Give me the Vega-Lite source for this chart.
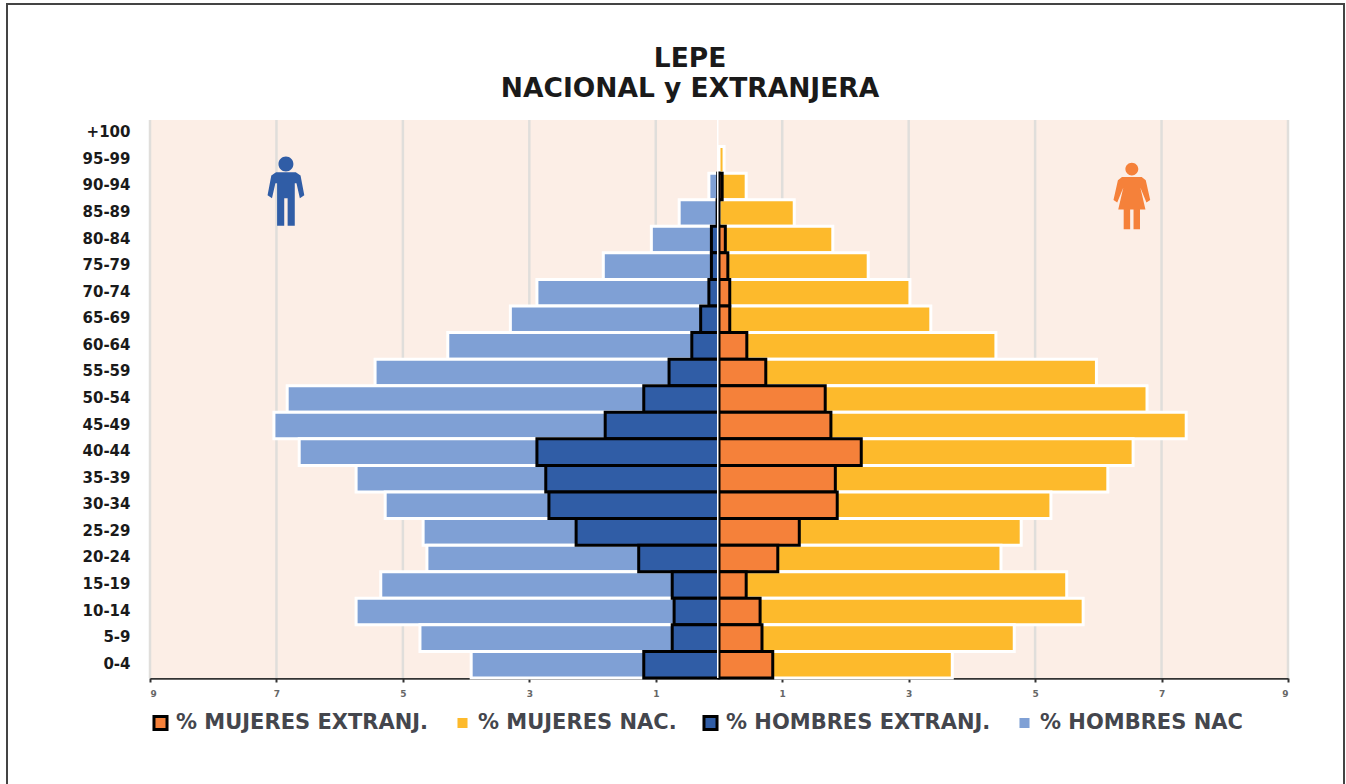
{
"$schema":"https://vega.github.io/schema/vega-lite/v6.json",
"autosize":{"type":"none"},
"padding":{"left":7,"top":4,"right":2,"bottom":-2},
"width":1337,"height":782,
"background":"white",
"view":{"stroke":"#444","strokeWidth":2,"fill":"white"},
"title":{"text":["LEPE","NACIONAL y EXTRANJERA"],"anchor":"start","frame":"group","align":"center","dx":683,"offset":-98,"fontSize":26.5,"font":"DejaVu Sans","fontWeight":"bold","color":"#1a1a1a","lineHeight":30},
"datasets":{
"fondo":[{"x0":-9,"x1":9,"y0":0,"y1":1}],
"rejilla":[{"t":-9,"y0":0,"y1":1},{"t":-7,"y0":0,"y1":1},{"t":-5,"y0":0,"y1":1},{"t":-3,"y0":0,"y1":1},{"t":-1,"y0":0,"y1":1},{"t":1,"y0":0,"y1":1},{"t":3,"y0":0,"y1":1},{"t":5,"y0":0,"y1":1},{"t":7,"y0":0,"y1":1},{"t":9,"y0":0,"y1":1}],
"cero":[{"t":-0.02,"y0":0,"y1":1}],
"barras":[
{"edad":"90-94","serie":"% HOMBRES NAC","v":-0.16},{"edad":"85-89","serie":"% HOMBRES NAC","v":-0.63},{"edad":"80-84","serie":"% HOMBRES NAC","v":-1.07},{"edad":"75-79","serie":"% HOMBRES NAC","v":-1.83},{"edad":"70-74","serie":"% HOMBRES NAC","v":-2.88},{"edad":"65-69","serie":"% HOMBRES NAC","v":-3.3},{"edad":"60-64","serie":"% HOMBRES NAC","v":-4.29},{"edad":"55-59","serie":"% HOMBRES NAC","v":-5.44},{"edad":"50-54","serie":"% HOMBRES NAC","v":-6.83},{"edad":"45-49","serie":"% HOMBRES NAC","v":-7.04},{"edad":"40-44","serie":"% HOMBRES NAC","v":-6.64},{"edad":"35-39","serie":"% HOMBRES NAC","v":-5.74},{"edad":"30-34","serie":"% HOMBRES NAC","v":-5.28},{"edad":"25-29","serie":"% HOMBRES NAC","v":-4.68},{"edad":"20-24","serie":"% HOMBRES NAC","v":-4.62},{"edad":"15-19","serie":"% HOMBRES NAC","v":-5.35},{"edad":"10-14","serie":"% HOMBRES NAC","v":-5.74},{"edad":"5-9","serie":"% HOMBRES NAC","v":-4.73},{"edad":"0-4","serie":"% HOMBRES NAC","v":-3.92},
{"edad":"95-99","serie":"% MUJERES NAC.","v":0.08},{"edad":"90-94","serie":"% MUJERES NAC.","v":0.43},{"edad":"85-89","serie":"% MUJERES NAC.","v":1.19},{"edad":"80-84","serie":"% MUJERES NAC.","v":1.8},{"edad":"75-79","serie":"% MUJERES NAC.","v":2.36},{"edad":"70-74","serie":"% MUJERES NAC.","v":3.02},{"edad":"65-69","serie":"% MUJERES NAC.","v":3.35},{"edad":"60-64","serie":"% MUJERES NAC.","v":4.38},{"edad":"55-59","serie":"% MUJERES NAC.","v":5.97},{"edad":"50-54","serie":"% MUJERES NAC.","v":6.77},{"edad":"45-49","serie":"% MUJERES NAC.","v":7.39},{"edad":"40-44","serie":"% MUJERES NAC.","v":6.55},{"edad":"35-39","serie":"% MUJERES NAC.","v":6.15},{"edad":"30-34","serie":"% MUJERES NAC.","v":5.25},{"edad":"25-29","serie":"% MUJERES NAC.","v":4.78},{"edad":"20-24","serie":"% MUJERES NAC.","v":4.46},{"edad":"15-19","serie":"% MUJERES NAC.","v":5.5},{"edad":"10-14","serie":"% MUJERES NAC.","v":5.76},{"edad":"5-9","serie":"% MUJERES NAC.","v":4.67},{"edad":"0-4","serie":"% MUJERES NAC.","v":3.69},
{"edad":"90-94","serie":"% HOMBRES EXTRANJ.","v":-0.02},{"edad":"85-89","serie":"% HOMBRES EXTRANJ.","v":-0.03},{"edad":"80-84","serie":"% HOMBRES EXTRANJ.","v":-0.12},{"edad":"75-79","serie":"% HOMBRES EXTRANJ.","v":-0.12},{"edad":"70-74","serie":"% HOMBRES EXTRANJ.","v":-0.16},{"edad":"65-69","serie":"% HOMBRES EXTRANJ.","v":-0.29},{"edad":"60-64","serie":"% HOMBRES EXTRANJ.","v":-0.43},{"edad":"55-59","serie":"% HOMBRES EXTRANJ.","v":-0.79},{"edad":"50-54","serie":"% HOMBRES EXTRANJ.","v":-1.19},{"edad":"45-49","serie":"% HOMBRES EXTRANJ.","v":-1.8},{"edad":"40-44","serie":"% HOMBRES EXTRANJ.","v":-2.88},{"edad":"35-39","serie":"% HOMBRES EXTRANJ.","v":-2.74},{"edad":"30-34","serie":"% HOMBRES EXTRANJ.","v":-2.69},{"edad":"25-29","serie":"% HOMBRES EXTRANJ.","v":-2.26},{"edad":"20-24","serie":"% HOMBRES EXTRANJ.","v":-1.27},{"edad":"15-19","serie":"% HOMBRES EXTRANJ.","v":-0.74},{"edad":"10-14","serie":"% HOMBRES EXTRANJ.","v":-0.71},{"edad":"5-9","serie":"% HOMBRES EXTRANJ.","v":-0.74},{"edad":"0-4","serie":"% HOMBRES EXTRANJ.","v":-1.19},
{"edad":"90-94","serie":"% MUJERES EXTRANJ.","v":0.05},{"edad":"80-84","serie":"% MUJERES EXTRANJ.","v":0.1},{"edad":"75-79","serie":"% MUJERES EXTRANJ.","v":0.14},{"edad":"70-74","serie":"% MUJERES EXTRANJ.","v":0.17},{"edad":"65-69","serie":"% MUJERES EXTRANJ.","v":0.17},{"edad":"60-64","serie":"% MUJERES EXTRANJ.","v":0.44},{"edad":"55-59","serie":"% MUJERES EXTRANJ.","v":0.74},{"edad":"50-54","serie":"% MUJERES EXTRANJ.","v":1.68},{"edad":"45-49","serie":"% MUJERES EXTRANJ.","v":1.77},{"edad":"40-44","serie":"% MUJERES EXTRANJ.","v":2.25},{"edad":"35-39","serie":"% MUJERES EXTRANJ.","v":1.84},{"edad":"30-34","serie":"% MUJERES EXTRANJ.","v":1.87},{"edad":"25-29","serie":"% MUJERES EXTRANJ.","v":1.27},{"edad":"20-24","serie":"% MUJERES EXTRANJ.","v":0.93},{"edad":"15-19","serie":"% MUJERES EXTRANJ.","v":0.43},{"edad":"10-14","serie":"% MUJERES EXTRANJ.","v":0.65},{"edad":"5-9","serie":"% MUJERES EXTRANJ.","v":0.68},{"edad":"0-4","serie":"% MUJERES EXTRANJ.","v":0.85}
]},
"resolve":{"scale":{"y":"independent"},"axis":{"y":"independent"}},
"layer":[
{"data":{"name":"fondo"},"mark":{"type":"rect","color":"#fceee6"},
 "encoding":{
  "x":{"field":"x0","type":"quantitative","title":null,"scale":{"domain":[-9,9],"range":[143,1281],"nice":false,"zero":false},
   "axis":{"values":[-9,-7,-5,-3,-1,1,3,5,7,9],"labelExpr":"abs(datum.value)","grid":false,"offset":-108,"domainColor":"#333","domainWidth":2.5,"tickColor":"#333","tickSize":4,"tickWidth":2,"labelFont":"DejaVu Sans","labelFontWeight":"bold","labelFontSize":9,"labelColor":"#666","labelPadding":7}},
  "x2":{"field":"x1"},
  "y":{"field":"y0","type":"quantitative","scale":{"domain":[0,1],"range":[674,116]},"axis":null},
  "y2":{"field":"y1"}}},
{"data":{"name":"rejilla"},"mark":{"type":"rule","color":"#e0dedb","strokeWidth":2.5},
 "encoding":{
  "x":{"field":"t","type":"quantitative","title":null,"scale":{"domain":[-9,9],"range":[143,1281],"nice":false,"zero":false}},
  "y":{"field":"y0","type":"quantitative","scale":{"domain":[0,1],"range":[674,116]},"axis":null},
  "y2":{"field":"y1"}}},
{"data":{"name":"barras"},"mark":{"type":"bar","strokeWidth":3,"opacity":1},
 "encoding":{
  "x":{"field":"v","type":"quantitative","stack":null,"title":null,"scale":{"domain":[-9,9],"range":[143,1281],"nice":false,"zero":false}},
  "y":{"field":"edad","type":"ordinal","title":null,"sort":null,"scale":{"domain":["+100","95-99","90-94","85-89","80-84","75-79","70-74","65-69","60-64","55-59","50-54","45-49","40-44","35-39","30-34","25-29","20-24","15-19","10-14","5-9","0-4"],"range":[116,674],"paddingInner":0,"paddingOuter":0},
   "axis":{"offset":-123,"domain":false,"ticks":false,"grid":false,"labelPadding":0,"labelOffset":-1,"labelFont":"DejaVu Sans","labelFontWeight":"bold","labelFontSize":15,"labelColor":"#1a1a1a"}},
  "fill":{"field":"serie","type":"nominal","title":null,
   "scale":{"domain":["% MUJERES EXTRANJ.","% MUJERES NAC.","% HOMBRES EXTRANJ.","% HOMBRES NAC"],"range":["#f5813a","#fdba2c","#305da6","#7fa0d5"]},
   "legend":{"orient":"none","legendX":143,"legendY":708,"direction":"horizontal","columns":4,"columnPadding":20,"symbolType":"square","symbolSize":170,"symbolStrokeWidth":3,"labelFont":"DejaVu Sans","labelFontWeight":"bold","labelFontSize":21,"labelColor":"#44464d","labelOffset":5,"labelLimit":400}},
  "stroke":{"field":"serie","type":"nominal","title":null,
   "scale":{"domain":["% MUJERES EXTRANJ.","% MUJERES NAC.","% HOMBRES EXTRANJ.","% HOMBRES NAC"],"range":["#000000","#ffffff","#000000","#ffffff"]}}}},
{"data":{"name":"cero"},"mark":{"type":"rule","color":"#ffffff","strokeWidth":1.5},
 "encoding":{
  "x":{"field":"t","type":"quantitative","title":null,"scale":{"domain":[-9,9],"range":[143,1281],"nice":false,"zero":false}},
  "y":{"field":"y0","type":"quantitative","scale":{"domain":[0,1],"range":[674,116]},"axis":null},
  "y2":{"field":"y1"}}},
{"data":{"values":[{"sexo":"hombre","x":-6.85,"edad":"90-94"}]},
 "mark":{"type":"point","filled":true,"opacity":1,"color":"#305da6","size":4624,"shape":"M-.22 -.66a.22 .22 0 1 0 .44 0a.22 .22 0 1 0 -.44 0ZM-.29 -.42L.29 -.42L.43 -.32L.54 .26L.41 .35L.31 -.09L.26 -.09L.26 1.16L.05 1.16L.05 .35L-.05 .35L-.05 1.16L-.26 1.16L-.26 -.09L-.31 -.09L-.41 .35L-.54 .26L-.43 -.32Z"},
 "encoding":{
  "x":{"field":"x","type":"quantitative","title":null,"scale":{"domain":[-9,9],"range":[143,1281],"nice":false,"zero":false}},
  "y":{"field":"edad","type":"ordinal","sort":null,"scale":{"domain":["+100","95-99","90-94","85-89","80-84","75-79","70-74","65-69","60-64","55-59","50-54","45-49","40-44","35-39","30-34","25-29","20-24","15-19","10-14","5-9","0-4"],"range":[116,674],"type":"band","paddingInner":0,"paddingOuter":0},"axis":null}}},
{"data":{"values":[{"sexo":"mujer","x":6.53,"edad":"90-94"}]},
 "mark":{"type":"point","filled":true,"opacity":1,"color":"#f5813a","size":4624,"shape":"M-.19 -.51a.19 .19 0 1 0 .38 0a.19 .19 0 1 0 -.38 0ZM-.29 -.28L.29 -.28L.41 -.18L.54 .4L.43 .47L.25 .03L.4 .68L.24 .68L.24 1.26L.05 1.26L.05 .68L-.05 .68L-.05 1.26L-.24 1.26L-.24 .68L-.4 .68L-.25 .03L-.43 .47L-.54 .4L-.41 -.18Z"},
 "encoding":{
  "x":{"field":"x","type":"quantitative","title":null,"scale":{"domain":[-9,9],"range":[143,1281],"nice":false,"zero":false}},
  "y":{"field":"edad","type":"ordinal","sort":null,"scale":{"domain":["+100","95-99","90-94","85-89","80-84","75-79","70-74","65-69","60-64","55-59","50-54","45-49","40-44","35-39","30-34","25-29","20-24","15-19","10-14","5-9","0-4"],"range":[116,674],"type":"band","paddingInner":0,"paddingOuter":0},"axis":null}}}
]
}
